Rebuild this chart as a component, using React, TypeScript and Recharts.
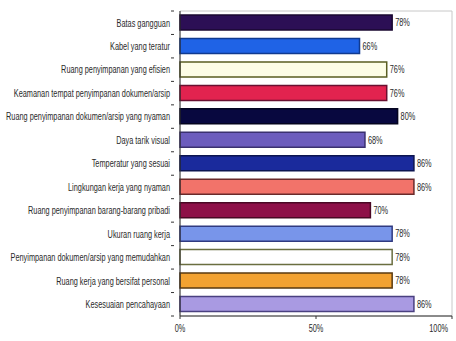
import React from "react";
import { BarChart, Bar, XAxis, YAxis, Cell, LabelList, ReferenceArea } from "recharts";

const categories = [
  "Batas gangguan",
  "Kabel yang teratur",
  "Ruang penyimpanan yang efisien",
  "Keamanan tempat penyimpanan dokumen/arsip",
  "Ruang penyimpanan dokumen/arsip yang nyaman",
  "Daya tarik visual",
  "Temperatur yang sesuai",
  "Lingkungan kerja yang nyaman",
  "Ruang penyimpanan barang-barang pribadi",
  "Ukuran ruang kerja",
  "Penyimpanan dokumen/arsip yang memudahkan",
  "Ruang kerja yang bersifat personal",
  "Kesesuaian pencahayaan",
];
const values = [78, 66, 76, 76, 80, 68, 86, 86, 70, 78, 78, 78, 86];
const xTicks = [0, 50, 100];

const fills = [
  "#2c0f55", "#1f63e6", "#fdfde6", "#e2234f", "#08083f", "#6c5cbd", "#1a2a9c",
  "#f2736a", "#8e1048", "#7895ea", "#ffffff", "#f2a232", "#a99ae2",
];
const strokes = [
  "#1a0830", "#103a90", "#5a5e22", "#6a1030", "#050520", "#3a3070", "#0c1550",
  "#6a2a2a", "#4a0824", "#303a80", "#6a6e40", "#5a3a10", "#4a4080",
];

const data = categories.map((name, i) => ({ name, value: values[i] }));

const FONT = "'Liberation Sans', Arial, sans-serif";
const SX = 0.7;

const YTick = (props: any) => {
  const { x, y, payload } = props;
  const half = 305 / categories.length / 2;
  return (
    <g>
      <line x1={x + 1} x2={x + 4} y1={y - half} y2={y - half} stroke="#333" />
      {payload.index === categories.length - 1 && (
        <line x1={x + 1} x2={x + 4} y1={y + half} y2={y + half} stroke="#333" />
      )}
      <text
        transform={`translate(${x},${y}) scale(${SX},1)`}
        dy={3.8}
        textAnchor="end"
        fontSize={10.5}
        fill="#2a2a2a"
        fontFamily={FONT}
      >
        {payload.value}
      </text>
    </g>
  );
};

const XTick = (props: any) => {
  const { x, y, payload } = props;
  const anchor = payload.value === 100 ? "end" : "middle";
  return (
    <text
      transform={`translate(${payload.value === 100 ? x + 4 : x},${y}) scale(${SX},1)`}
      dy={9}
      textAnchor={anchor}
      fontSize={10.5}
      fill="#2a2a2a"
      fontFamily={FONT}
    >
      {`${payload.value}%`}
    </text>
  );
};

const ValueLabel = (props: any) => {
  const { x, y, width, height, value } = props;
  return (
    <text
      transform={`translate(${x + width + 3},${y + height / 2}) scale(${SX},1)`}
      dy={3.8}
      textAnchor="start"
      fontSize={10.5}
      fill="#2a2a2a"
      fontFamily={FONT}
    >
      {`${value}%`}
    </text>
  );
};

export default function App() {
  return (
    <div style={{ position: "absolute", left: 0, top: 0, width: 456, height: 341, background: "#fff" }}>
      <BarChart
        width={456}
        height={341}
        data={data}
        layout="vertical"
        margin={{ top: 11, right: 4, bottom: 5, left: 0 }}
        barSize={15}
      >
        <ReferenceArea x1={0} x2={100} fill="none" stroke="#c8c8c8" strokeWidth={1} ifOverflow="visible" />
        <XAxis
          type="number"
          domain={[0, 100]}
          ticks={xTicks}
          tick={<XTick />}
          tickSize={3}
          tickMargin={4}
          height={20}
          stroke="#333"
        />
        <YAxis
          type="category"
          dataKey="name"
          width={180}
          tick={<YTick />}
          tickLine={false}
          tickMargin={4}
          stroke="#333"
          interval={0}
        />
        <Bar dataKey="value" isAnimationActive={false} strokeWidth={1.5}>
          {data.map((d, i) => (
            <Cell key={d.name} fill={fills[i]} stroke={strokes[i]} />
          ))}
          <LabelList dataKey="value" content={<ValueLabel />} />
        </Bar>
      </BarChart>
    </div>
  );
}
